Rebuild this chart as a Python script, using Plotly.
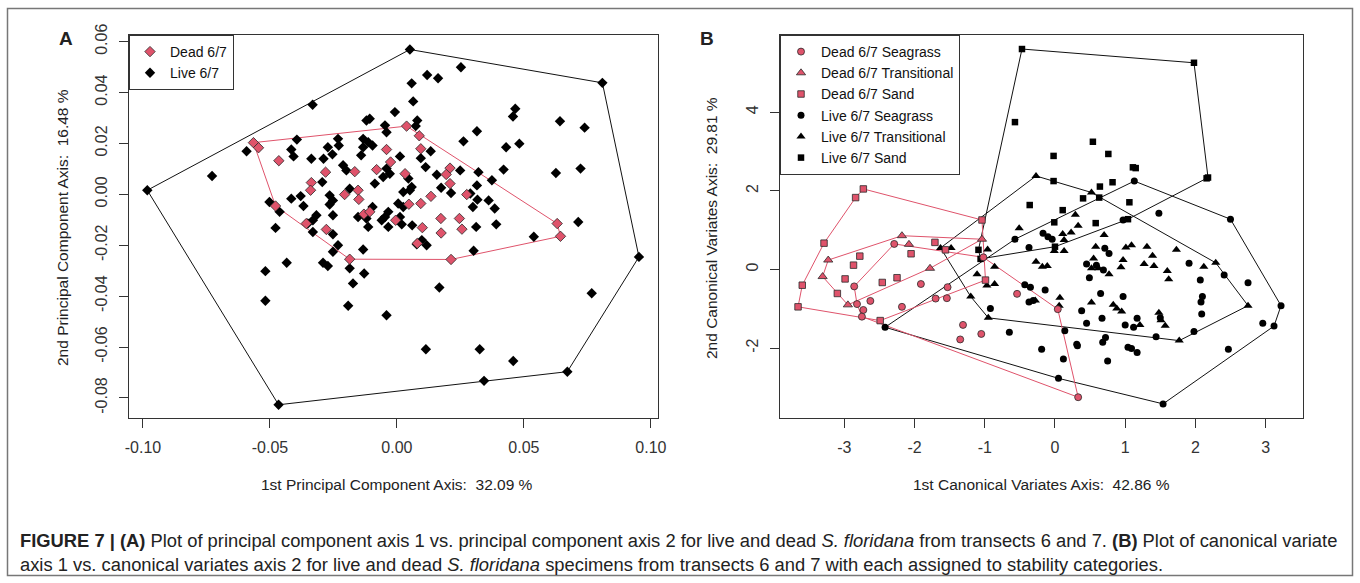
import plotly.graph_objects as go

# ---------------- Panel A data (PCA) ----------------
pca_live_x = [0.0051, 0.0809, 0.0953, 0.0671, 0.0343, -0.0466, -0.0983, -0.0332,
    -0.0107, -0.0120, -0.0394, -0.0592, -0.0232, -0.0229, -0.0416, -0.0407, -0.0133, -0.0113,
    -0.0096, -0.0133, -0.0272, -0.0254, -0.0289, -0.0337, -0.0141, -0.0728, -0.0212, -0.0199,
    -0.0087, -0.0294, -0.0416, -0.0379, -0.0368, -0.0502, -0.0462, -0.0265, -0.0252, -0.0265,
    -0.0186, -0.0096, -0.0153, -0.0120, -0.0252, -0.0317, -0.0331, -0.0351, -0.0478, -0.0331,
    -0.0113, -0.0252, -0.0232, -0.0252, -0.0133, -0.0434, -0.0291, -0.0272, -0.0518, -0.0186,
    -0.0129, -0.0173, -0.0518, -0.0192,
    0.0058, 0.0064, -0.0008, 0.0466, 0.0457, 0.0642, -0.0047, -0.0041, 0.0080, 0.0074,
    0.0315, 0.0262, 0.0430, 0.0482, 0.0133, 0.0012, 0.0094, 0.0113, -0.0041, -0.0028,
    -0.0054, 0.0249, 0.0157, 0.0420, 0.0321, 0.0626, 0.0374, 0.0045, 0.0058, 0.0051,
    0.0315, 0.0174, 0.0213, 0.0025, 0.0289, 0.0317, 0.0299, 0.0361, 0.0385, 0.0005,
    0.0025, -0.0034, -0.0047, -0.0060, 0.0012, 0.0019, -0.0034, 0.0060, 0.0312, 0.0391,
    0.0539, 0.0098, 0.0117, 0.0078, 0.0302, 0.0167, -0.0041,
    0.0739, 0.0252, 0.0119, 0.0162, 0.0723, 0.0714, 0.0114, 0.0326, 0.0458, 0.0767]
pca_live_y = [0.0569, 0.0438, -0.0246, -0.0697, -0.0733, -0.0827, 0.0016, 0.0352,
    0.0297, 0.0290, 0.0215, 0.0169, 0.0218, 0.0192, 0.0176, 0.0149, 0.0218, 0.0205,
    0.0192, 0.0185, 0.0185, 0.0157, 0.0140, 0.0140, 0.0153, 0.0072, 0.0114, 0.0094,
    0.0042, 0.0048, -0.0017, -0.0007, -0.0046, -0.0030, -0.0069, -0.0004, -0.0024, -0.0040,
    0.0022, -0.0050, -0.0089, -0.0095, -0.0082, -0.0082, -0.0102, -0.0115, -0.0132, -0.0148,
    -0.0128, -0.0157, -0.0200, -0.0226, -0.0217, -0.0269, -0.0269, -0.0282, -0.0302, -0.0291,
    -0.0311, -0.0350, -0.0418, -0.0438,
    0.0436, 0.0365, 0.0323, 0.0336, 0.0306, 0.0287, 0.0271, 0.0244, 0.0290, 0.0268,
    0.0248, 0.0208, 0.0185, 0.0199, 0.0169, 0.0149, 0.0142, 0.0107, 0.0101, 0.0081,
    0.0068, 0.0094, 0.0077, 0.0097, 0.0087, 0.0084, 0.0055, 0.0062, 0.0029, 0.0016,
    0.0035, 0.0026, 0.0005, 0.0009, 0.0003, -0.0021, -0.0050, -0.0024, -0.0056, -0.0036,
    -0.0050, -0.0069, -0.0089, -0.0102, -0.0089, -0.0118, -0.0128, -0.0122, -0.0128, -0.0118,
    -0.0167, -0.0180, -0.0200, -0.0196, -0.0222, -0.0366, -0.0475,
    0.0262, 0.0499, 0.0469, 0.0456, 0.0101, -0.0109, -0.0609, -0.0609, -0.0655, -0.0389]
pca_dead_x = [-0.0565, -0.0545, -0.0465, -0.0281, -0.0166, -0.0080, -0.0337, -0.0340,
    -0.0153, -0.0150, -0.0206, -0.0478, -0.0130, -0.0107, -0.0357, -0.0278, -0.0186,
    0.0038, 0.0088, -0.0041, 0.0094, -0.0025, 0.0209, 0.0194, 0.0032, 0.0209, 0.0275,
    0.0134, 0.0047, 0.0094, 0.0173, 0.0246, -0.0005, 0.0100, 0.0174, 0.0256, 0.0080,
    0.0213, 0.0631, 0.0644]
pca_dead_y = [0.0203, 0.0183, 0.0132, 0.0087, 0.0089, 0.0097, 0.0046, 0.0016,
    0.0016, -0.0020, -0.0001, -0.0046, -0.0078, -0.0069, -0.0115, -0.0138, -0.0255,
    0.0268, 0.0230, 0.0176, 0.0179, 0.0127, 0.0103, 0.0078, 0.0081, 0.0042, -0.0001,
    -0.0008, -0.0039, -0.0036, -0.0095, -0.0095, -0.0102, -0.0131, -0.0152, -0.0137, -0.0193,
    -0.0256, -0.0115, -0.0165]

# ---------------- Panel B data (CVA) ----------------
dead_seagrass_x = [-2.29, -1.02, -2.86, -2.82, -2.73, -2.75, -2.63, -2.18, -1.91, -1.53,
    -1.70, -1.54, -0.54, -1.31, -1.05, -1.35, 0.04, 0.33]
dead_seagrass_y = [0.65, 0.31, -0.43, -0.88, -1.03, -1.20, -0.80, -0.95, -0.37, -0.45,
    -0.74, -0.73, -0.62, -1.41, -1.64, -1.78, -1.01, -3.25]
dead_trans_x = [-2.18, -2.08, -3.23, -3.31, -2.95, -1.78, -1.04]
dead_trans_y = [0.86, 0.64, 0.24, -0.18, -0.90, 0.03, 0.77]
dead_sand_x = [-2.73, -2.84, -3.29, -3.60, -3.66, -2.78, -2.87, -2.99, -3.10, -2.46,
    -2.25, -2.05, -1.71, -1.56, -2.49, -1.04, -0.99]
dead_sand_y = [2.05, 1.83, 0.67, -0.40, -0.95, 0.34, 0.11, -0.24, -0.61, -0.33,
    -0.21, 0.40, 0.69, 0.50, -1.30, 1.26, -0.27]
live_seagrass_x = [-2.42, 1.13, 1.48, 2.50, 1.91, 2.41, 2.75, 2.07, 2.10, 2.08, 2.09,
    3.22, 3.12, 2.96, 2.47, 1.54, 1.98, 1.44, 1.17, 1.12, 1.09, 1.17, 1.50, 0.97,
    -0.57, -0.37, -0.17, -0.10, -0.04, 0.71, 0.77, 0.45, 0.59, 0.49, 0.69, -0.43, -0.35,
    -0.14, -0.37, -0.31, 0.65, 0.97, -0.92, 0.38, 0.67, 0.45, 1.00, -0.65, 0.14, -0.19,
    0.12, 0.31, 0.32, 0.72, 0.68, 0.75, 1.04, 0.05]
live_seagrass_y = [-1.47, 2.25, 1.43, 1.28, 0.16, -0.14, -0.34, -0.27, -0.69, -0.83, -1.13,
    -0.92, -1.44, -1.37, -2.03, -3.42, -1.58, -1.71, -1.24, -1.47, -2.01, -2.11, -1.23, 1.26,
    0.77, 0.56, 0.92, 0.83, 0.77, 0.54, 0.41, 0.14, 0.11, -0.21, -0.01, -0.39, -0.45,
    -0.52, -0.83, -0.79, -0.61, -0.69, -0.99, -1.05, -1.24, -1.37, -1.41, -1.60, -1.56, -2.03,
    -2.28, -1.90, -1.94, -1.73, -1.85, -2.33, -1.98, -2.77]
live_trans_x = [-0.27, 0.52, 0.29, -0.51, 0.33, 0.23, 0.11, 0.13, -0.01, 0.13, 0.70, 0.58,
    1.01, 0.55, 0.52, 0.62, 0.97, 0.94, -0.27, -0.18, -0.11, 0.77, -0.96, -1.11, -0.86,
    -0.97, -0.86, -1.20, -0.95, -0.28, 0.07, 0.06, 0.52, 0.83, 0.88, 0.95, -1.63, -1.48,
    1.09, 1.31, 1.39, 1.27, 1.41, 1.73, 1.60, 1.62, 2.12, 2.29, 2.75, 1.48, 1.51, 1.57,
    1.21, 1.77]
live_trans_y = [2.38, 1.96, 1.39, 1.05, 1.11, 0.94, 0.90, 0.75, 0.47, 0.47, 0.88, 0.58,
    0.56, 0.28, 0.03, 0.03, 0.24, 0.06, 0.20, 0.07, 0.09, -0.12, 0.51, -0.12, 0.07,
    -0.41, -0.37, -0.69, -1.23, -0.79, -0.72, -0.92, -0.84, -0.90, -0.99, -1.07, 0.55, 0.55,
    0.62, 0.58, 0.35, 0.14, 0.09, 0.50, -0.04, -0.25, 0.07, 0.17, -0.92, -1.10, -1.29, -1.43,
    -1.41, -1.81]
live_sand_x = [-0.47, 1.98, -0.57, 0.54, -0.02, 0.76, 1.11, 1.15, 2.16, 2.18, -0.02, 0.82,
    0.64, 0.40, 0.63, 1.06, -0.36, 0.11, -0.01, 0.58, 1.04, -1.09, -1.06, 0.00]
live_sand_y = [5.61, 5.26, 3.75, 3.25, 2.89, 2.94, 2.60, 2.58, 2.32, 2.34, 2.25, 2.22,
    2.11, 1.81, 1.83, 1.71, 1.64, 1.51, 1.20, 1.18, 1.28, 0.50, 0.27, 0.58]

pca_x_ticks = [-0.10, -0.05, 0.00, 0.05, 0.10]
pca_x_labels = ["-0.10", "-0.05", "0.00", "0.05", "0.10"]
pca_y_ticks = [-0.08, -0.06, -0.04, -0.02, 0.00, 0.02, 0.04, 0.06]
pca_y_labels = ["-0.08", "-0.06", "-0.04", "-0.02", "0.00", "0.02", "0.04", "0.06"]
cva_x_ticks = [-3, -2, -1, 0, 1, 2, 3]
cva_y_ticks = [-2, 0, 2, 4]

RED = "#DF536B"
EDGE = "#2a2a2a"
FONT = "Liberation Sans, Arial, sans-serif"
W, H = 1360, 583


def convex_hull(xs, ys):
    pts = sorted(set(zip(xs, ys)))
    if len(pts) < 3:
        return pts

    def cross(o, a, b):
        return (a[0] - o[0]) * (b[1] - o[1]) - (a[1] - o[1]) * (b[0] - o[0])

    lower, upper = [], []
    for p in pts:
        while len(lower) >= 2 and cross(lower[-2], lower[-1], p) <= 0:
            lower.pop()
        lower.append(p)
    for p in reversed(pts):
        while len(upper) >= 2 and cross(upper[-2], upper[-1], p) <= 0:
            upper.pop()
        upper.append(p)
    h = lower[:-1] + upper[:-1]
    return h + [h[0]]


fig = go.Figure()


def add_hull(xs, ys, color, xa, ya):
    h = convex_hull(xs, ys)
    fig.add_trace(go.Scatter(x=[p[0] for p in h], y=[p[1] for p in h], mode="lines",
                             line=dict(color=color, width=1), showlegend=False,
                             hoverinfo="skip", xaxis=xa, yaxis=ya))


# Panel A hulls
add_hull(pca_live_x, pca_live_y, "#111111", "x", "y")
add_hull(pca_dead_x, pca_dead_y, RED, "x", "y")
# Panel B hulls
add_hull(live_seagrass_x, live_seagrass_y, "#111111", "x2", "y2")
add_hull(live_trans_x, live_trans_y, "#111111", "x2", "y2")
add_hull(live_sand_x, live_sand_y, "#111111", "x2", "y2")
add_hull(dead_seagrass_x, dead_seagrass_y, RED, "x2", "y2")
add_hull(dead_trans_x, dead_trans_y, RED, "x2", "y2")
add_hull(dead_sand_x, dead_sand_y, RED, "x2", "y2")

# Panel A points
fig.add_trace(go.Scatter(x=pca_live_x, y=pca_live_y, mode="markers", name="Live 6/7",
                         marker=dict(symbol="diamond", size=8, color="#000000", line=dict(width=0)),
                         xaxis="x", yaxis="y", legend="legend", legendrank=2))
fig.add_trace(go.Scatter(x=pca_dead_x, y=pca_dead_y, mode="markers", name="Dead 6/7",
                         marker=dict(symbol="diamond", size=8, color=RED, line=dict(width=0.8, color=EDGE)),
                         xaxis="x", yaxis="y", legend="legend", legendrank=1))

# Panel B points
b_series = [
    ("Dead 6/7 Seagrass", dead_seagrass_x, dead_seagrass_y, "circle", 7, RED, True, 1),
    ("Dead 6/7 Transitional", dead_trans_x, dead_trans_y, "triangle-up", 8, RED, True, 2),
    ("Dead 6/7 Sand", dead_sand_x, dead_sand_y, "square", 6.5, RED, True, 3),
    ("Live 6/7 Seagrass", live_seagrass_x, live_seagrass_y, "circle", 7, "#000000", False, 4),
    ("Live 6/7 Transitional", live_trans_x, live_trans_y, "triangle-up", 8, "#000000", False, 5),
    ("Live 6/7 Sand", live_sand_x, live_sand_y, "square", 6.5, "#000000", False, 6),
]
for name, xs, ys, sym, sz, col, edged, rank in b_series[3:] + b_series[:3]:
    fig.add_trace(go.Scatter(x=xs, y=ys, mode="markers", name=name,
                             marker=dict(symbol=sym, size=sz, color=col,
                                         line=dict(width=0.8 if edged else 0, color=EDGE)),
                             xaxis="x2", yaxis="y2", legend="legend2", legendrank=rank))

axis_common = dict(showline=True, mirror=True, linecolor="#333333", linewidth=1,
                   ticks="outside", ticklen=9, tickcolor="#333333", showgrid=False,
                   zeroline=False, tickfont=dict(size=16, color="#333333", family=FONT),
                   ticklabelstandoff=6, automargin=False)

ydom = [165 / H, 548 / H]
legend_common = dict(y=1 - 35 / H, xanchor="left", yanchor="top",
                     bordercolor="#333333", borderwidth=1, bgcolor="white",
                     font=dict(size=14, family=FONT, color="#111111"), tracegroupgap=0,
                     itemwidth=30, traceorder="normal")
fig.update_layout(
    width=W, height=H,
    margin=dict(l=0, r=0, t=0, b=0, pad=0),
    paper_bgcolor="white", plot_bgcolor="white",
    font=dict(family=FONT, color="#222222"),
    xaxis=dict(domain=[129 / W, 658 / W], range=[-0.1055, 0.1028], anchor="y",
               tickvals=pca_x_ticks, ticktext=pca_x_labels, **axis_common),
    yaxis=dict(domain=ydom, range=[-0.0879, 0.0626], anchor="x",
               tickvals=pca_y_ticks, ticktext=pca_y_labels, tickangle=-90, **axis_common),
    xaxis2=dict(domain=[780 / W, 1303 / W], range=[-3.917, 3.533], anchor="y2",
                tickvals=cva_x_ticks, ticktext=[str(v) for v in cva_x_ticks], **axis_common),
    yaxis2=dict(domain=ydom, range=[-3.779, 5.967], anchor="x2",
                tickvals=cva_y_ticks, ticktext=[str(v) for v in cva_y_ticks], tickangle=-90, **axis_common),
    legend=dict(x=129 / W, **legend_common),
    legend2=dict(x=780 / W, **legend_common),
    showlegend=True,
)


def ann(text, px, py, size=15.5, angle=0, xanchor="center"):
    fig.add_annotation(text=text, x=px / W, y=1 - py / H, xref="paper", yref="paper",
                       showarrow=False, textangle=angle, xanchor=xanchor, yanchor="middle",
                       font=dict(size=size, family=FONT, color="#222222"))


ann("<b>A</b>", 66, 38, size=19)
ann("<b>B</b>", 707, 38, size=19)
ann("1st Principal Component Axis:  32.09 %", 397, 484)
ann("2nd Principal Component Axis:  16.48 %", 63, 228, angle=-90)
ann("1st Canonical Variates Axis:  42.86 %", 1041, 484)
ann("2nd Canonical Variates Axis:  29.81 %", 712, 228, angle=-90)
ann("<b>FIGURE 7 | (A)</b> Plot of principal component axis 1 vs. principal component axis 2 for live and dead "
    "<i>S. floridana</i> from transects 6 and 7. <b>(B)</b> Plot of canonical variate",
    18, 540, size=18.35, xanchor="left")
ann("axis 1 vs. canonical variates axis 2 for live and dead <i>S. floridana</i> specimens from transects 6 and 7 "
    "with each assigned to stability categories.", 18, 564, size=18.35, xanchor="left")

fig.add_shape(type="rect", xref="paper", yref="paper",
              x0=7.5 / W, x1=1352.5 / W, y0=1 - 575.5 / H, y1=1 - 8.5 / H,
              line=dict(color="#777777", width=1.5), fillcolor="rgba(0,0,0,0)")

fig.write_html("out.html", config={"displayModeBar": False},
               post_script="document.body.style.margin='0px';document.body.style.overflow='hidden';")
